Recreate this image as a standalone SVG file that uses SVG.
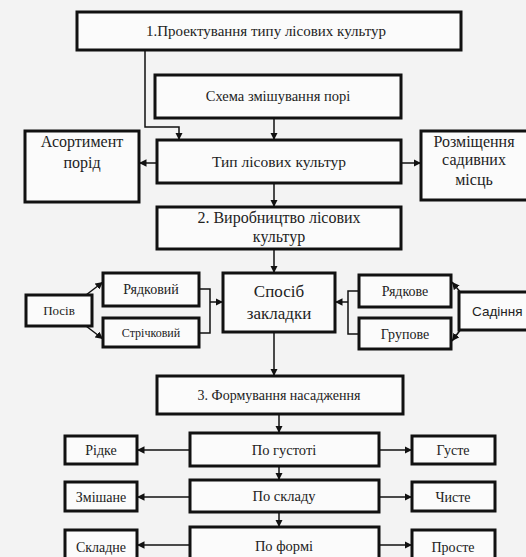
<svg xmlns="http://www.w3.org/2000/svg" width="526" height="557" viewBox="0 0 526 557">
<defs>
<marker id="ah" viewBox="0 0 10 10" refX="10" refY="5" markerWidth="5" markerHeight="5" orient="auto" markerUnits="strokeWidth">
<path d="M0,0 L10,5 L0,10 z" fill="#111"/>
</marker>
<style>
.box{fill:#fbfbfb;stroke:#111;stroke-width:3}
.t{fill:#222;text-anchor:middle;font-family:'Liberation Serif','Times New Roman',serif}
.c{fill:none;stroke:#111;stroke-width:1.5}
.a{fill:none;stroke:#111;stroke-width:1.5;marker-end:url(#ah)}
</style>
</defs>
<rect x="0" y="0" width="526" height="557" fill="#f3f3f3"/>

<g id="connectors">
<path class="a" d="M145,50 V127 H179 V140"/>
<path class="a" d="M274,118 V140"/>
<path class="a" d="M157,163 H139"/>
<path class="a" d="M401,163 H421"/>
<path class="a" d="M274,183 V207"/>
<path class="a" d="M274,249 V273"/>
<path class="a" d="M86,295 L103,282"/>
<path class="a" d="M86,326 L103,339"/>
<path class="c" d="M199,289 H210 V333 H199"/>
<path class="a" d="M210,302 H223"/>
<path class="c" d="M359,291 H348 V334 H359"/>
<path class="a" d="M348,302 H335"/>
<path class="a" d="M461,293 L452,282"/>
<path class="a" d="M461,329 L452,341"/>
<path class="a" d="M274,332 V376"/>
<path class="a" d="M279,414 V433"/>
<path class="a" d="M190,450 H137"/>
<path class="a" d="M379,450 H412"/>
<path class="a" d="M279,466 V480"/>
<path class="a" d="M190,497 H137"/>
<path class="a" d="M379,497 H412"/>
<path class="a" d="M279,512 V527"/>
<path class="a" d="M190,545 H137"/>
<path class="a" d="M379,545 H412"/>
</g>

<g id="n_project">
<rect class="box" x="77" y="12" width="384" height="38"/>
<text class="t" x="266" y="36" font-size="15">1.Проектування типу лісових культур</text>
</g>
<g id="n_schema">
<rect class="box" x="155" y="75" width="246" height="43"/>
<text class="t" x="278" y="101" font-size="14.5">Схема змішування порі</text>
</g>
<g id="n_type">
<rect class="box" x="157" y="140" width="244" height="43"/>
<text class="t" x="279" y="167" font-size="15.5">Тип лісових культур</text>
</g>
<g id="n_assort">
<rect class="box" x="25" y="131" width="114" height="71"/>
<text class="t" x="82" y="147" font-size="16">Асортимент</text>
<text class="t" x="82" y="168" font-size="16">порід</text>
</g>
<g id="n_place">
<rect class="box" x="421" y="131" width="110" height="69"/>
<text class="t" x="474" y="147" font-size="16">Розміщення</text>
<text class="t" x="474" y="165" font-size="16">садивних</text>
<text class="t" x="474" y="185" font-size="16">місць</text>
</g>
<g id="n_produce">
<rect class="box" x="157" y="207" width="244" height="42"/>
<text class="t" x="279" y="223" font-size="16">2. Виробництво лісових</text>
<text class="t" x="279" y="242" font-size="16">культур</text>
</g>
<g id="n_method">
<rect class="box" x="223" y="273" width="112" height="59"/>
<text class="t" x="279" y="297" font-size="17">Спосіб</text>
<text class="t" x="279" y="319" font-size="17">закладки</text>
</g>
<g id="n_sowing">
<rect class="box" x="26" y="295" width="66" height="31"/>
<text class="t" x="59" y="315" font-size="13">Посів</text>
</g>
<g id="n_row_sow">
<rect class="box" x="103" y="273" width="96" height="33"/>
<text class="t" x="151" y="294" font-size="14">Рядковий</text>
</g>
<g id="n_strip">
<rect class="box" x="103" y="318" width="96" height="29"/>
<text class="t" x="151" y="337" font-size="12">Стрічковий</text>
</g>
<g id="n_row_plant">
<rect class="box" x="359" y="275" width="92" height="32"/>
<text class="t" x="405" y="296" font-size="14">Рядкове</text>
</g>
<g id="n_group">
<rect class="box" x="359" y="318" width="92" height="31"/>
<text class="t" x="405" y="339" font-size="14">Групове</text>
</g>
<g id="n_planting">
<rect class="box" x="459" y="292" width="72" height="38"/>
<text x="472" y="316" font-family="'Liberation Sans', Arial, sans-serif" font-size="13.5" fill="#222">Садіння</text>
</g>
<g id="n_form">
<rect class="box" x="157" y="376" width="246" height="38"/>
<text class="t" x="279" y="400" font-size="14">3. Формування насадження</text>
</g>
<g id="n_density">
<rect class="box" x="190" y="433" width="189" height="33"/>
<text class="t" x="284" y="455" font-size="14.5">По густоті</text>
</g>
<g id="n_sparse">
<rect class="box" x="65" y="436" width="72" height="28"/>
<text class="t" x="101" y="455" font-size="14">Рідке</text>
</g>
<g id="n_dense">
<rect class="box" x="412" y="436" width="83" height="28"/>
<text class="t" x="453" y="455" font-size="14">Густе</text>
</g>
<g id="n_compos">
<rect class="box" x="190" y="480" width="189" height="32"/>
<text class="t" x="284" y="501" font-size="14.5">По складу</text>
</g>
<g id="n_mixed">
<rect class="box" x="65" y="482" width="72" height="29"/>
<text class="t" x="101" y="502" font-size="14">Змішане</text>
</g>
<g id="n_pure">
<rect class="box" x="412" y="482" width="83" height="29"/>
<text class="t" x="453" y="502" font-size="14">Чисте</text>
</g>
<g id="n_shape">
<rect class="box" x="190" y="527" width="189" height="40"/>
<text class="t" x="284" y="551" font-size="14.5">По формі</text>
</g>
<g id="n_complex">
<rect class="box" x="65" y="530" width="72" height="37"/>
<text class="t" x="101" y="552" font-size="14">Складне</text>
</g>
<g id="n_simple">
<rect class="box" x="412" y="530" width="83" height="37"/>
<text class="t" x="453" y="552" font-size="14">Просте</text>
</g>
</svg>
